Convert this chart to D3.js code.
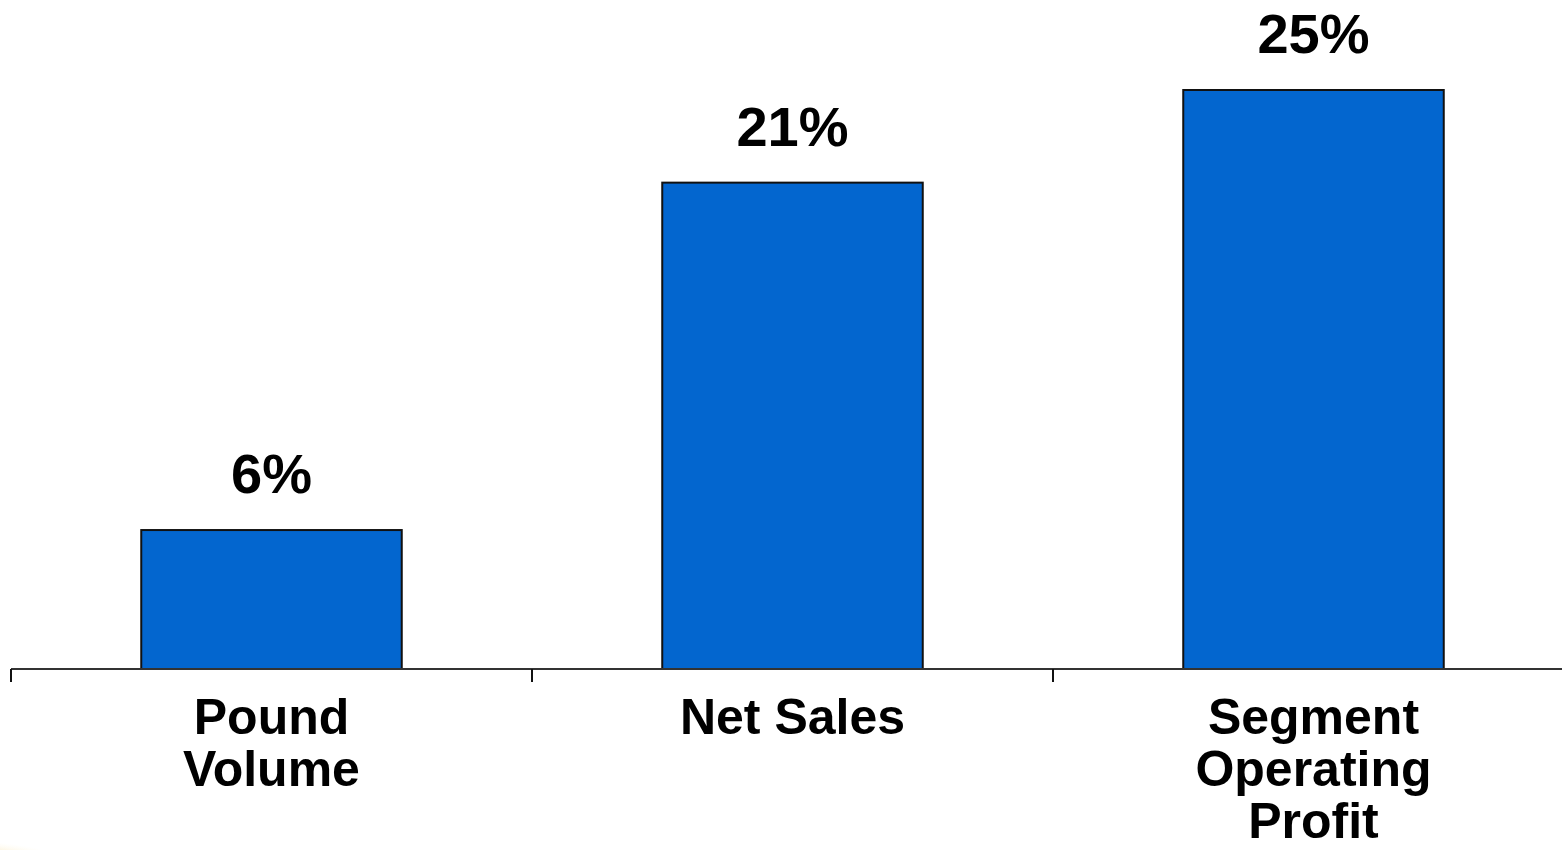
<!DOCTYPE html>
<html>
<head>
<meta charset="utf-8">
<script src="https://cdn.jsdelivr.net/npm/d3@7"></script>
<style>
  html, body { margin: 0; padding: 0; background: #ffffff; }
  svg { display: block; }
  text { font-family: "Liberation Sans", Arial, sans-serif; font-weight: bold; fill: #000; }
</style>
</head>
<body>
<svg id="chart" width="1562" height="850"></svg>
<script>
// Growth figures by measure
const categories = ["Pound Volume", "Net Sales", "Segment Operating Profit"];
const categoryLines = [["Pound", "Volume"], ["Net Sales"], ["Segment", "Operating", "Profit"]];
const values = [6, 21, 25];
const valueLabels = ["6%", "21%", "25%"];

const svg = d3.select("#chart");

const x = d3.scaleBand()
  .domain(categories)
  .range([11, 1574])
  .paddingInner(0.5)
  .paddingOuter(0.25);

const y = d3.scaleLinear()
  .domain([0, 25])
  .range([669, 90]);

// faint decorative swash in the lower-left corner
const grad = svg.append("defs").append("radialGradient")
  .attr("id", "swash").attr("cx", "0%").attr("cy", "100%").attr("r", "100%");
grad.append("stop").attr("offset", "0%").attr("stop-color", "#e2a93a").attr("stop-opacity", 0.9);
grad.append("stop").attr("offset", "100%").attr("stop-color", "#fff3c8").attr("stop-opacity", 0);
svg.append("ellipse")
  .attr("cx", 0).attr("cy", 850).attr("rx", 60).attr("ry", 10)
  .attr("fill", "url(#swash)");

// bars
svg.selectAll("rect.bar")
  .data(values)
  .join("rect")
  .attr("class", "bar")
  .attr("x", (d, i) => x(categories[i]))
  .attr("y", d => y(d))
  .attr("width", x.bandwidth())
  .attr("height", d => y(0) - y(d))
  .attr("fill", "#0366cf")
  .attr("stroke", "#111")
  .attr("stroke-width", 2);

// baseline axis with ticks at category boundaries
const step = x.step();
const boundaries = categories.map(c => x(c) - step * 0.25);
svg.append("line")
  .attr("x1", boundaries[0]).attr("x2", 1562)
  .attr("y1", y(0)).attr("y2", y(0))
  .attr("stroke", "#333").attr("stroke-width", 2);
svg.selectAll("line.tick")
  .data(boundaries)
  .join("line")
  .attr("class", "tick")
  .attr("x1", d => d).attr("x2", d => d)
  .attr("y1", y(0)).attr("y2", y(0) + 13)
  .attr("stroke", "#111").attr("stroke-width", 2);

// value labels
svg.selectAll("text.value")
  .data(values)
  .join("text")
  .attr("class", "value")
  .attr("x", (d, i) => x(categories[i]) + x.bandwidth() / 2)
  .attr("y", d => y(d) - 37)
  .attr("text-anchor", "middle")
  .attr("font-size", 56)
  .text((d, i) => valueLabels[i]);

// category labels
categories.forEach((c, i) => {
  const t = svg.append("text")
    .attr("x", x(c) + x.bandwidth() / 2)
    .attr("y", 734)
    .attr("text-anchor", "middle")
    .attr("font-size", 50);
  categoryLines[i].forEach((line, j) => {
    t.append("tspan")
      .attr("x", x(c) + x.bandwidth() / 2)
      .attr("dy", j === 0 ? 0 : 52)
      .text(line);
  });
});
</script>
</body>
</html>
